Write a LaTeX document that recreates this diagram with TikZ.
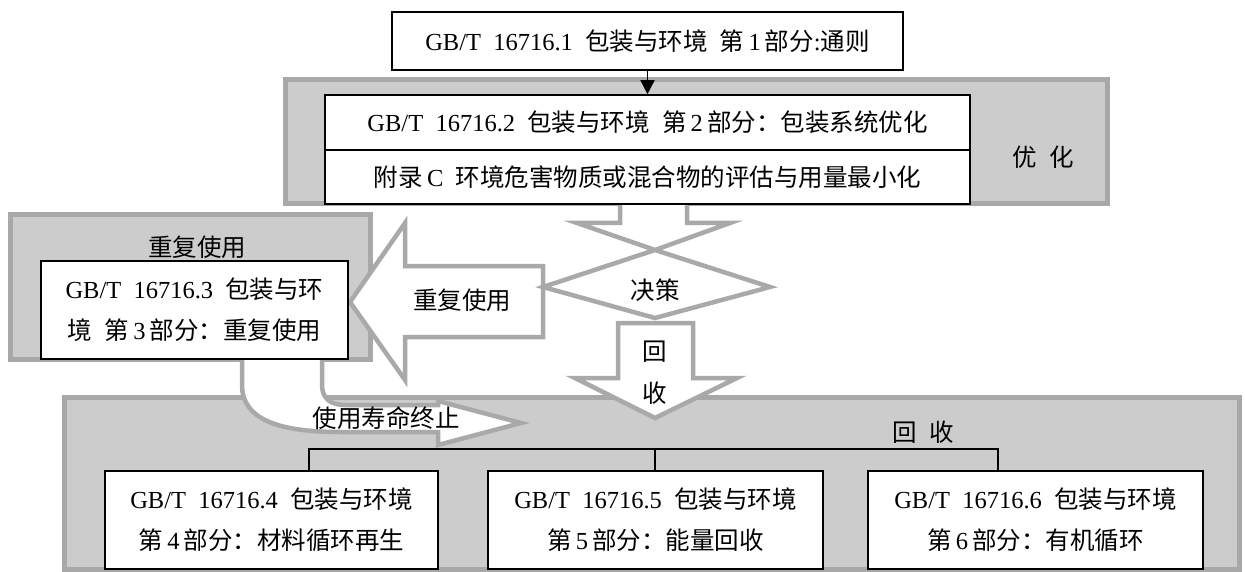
\documentclass[tikz,border=0pt]{standalone}
\usepackage{fontspec}
\setmainfont[WordSpace=2]{Liberation Serif}
\newfontfamily\zhfont{Noto Sans CJK SC}
\newcommand\zh[1]{{\zhfont #1}}
\newcommand\fs{\fontsize{24.5}{41}\selectfont}
\usetikzlibrary{arrows.meta}
\definecolor{pfill}{HTML}{CDCCCD}
\definecolor{pgray}{HTML}{A8A8A8}
\definecolor{agray}{HTML}{A9A9A9}
\tikzset{
  panel/.style={draw=pgray, fill=pfill, line width=5pt},
  stdbox/.style={draw=black, fill=white, line width=1.6pt, inner sep=0pt, align=center, font=\fs},
  blockarrow/.style={draw=agray, fill=white, line width=4.5pt, line join=miter},
  lbl/.style={font=\fs, inner sep=0pt},
  tree/.style={draw=black, line width=1.6pt},
}
\begin{document}
\begin{tikzpicture}[x=1pt,y=-1pt]
\useasboundingbox (0,0) rectangle (1245,572);
% panels
\draw[panel] (285.5,79.5) rectangle (1107.5,203.5);
\draw[panel] (10.5,214.5) rectangle (370.5,359.5);
\draw[panel] (64.5,397.5) rectangle (1239.5,569.5);
\node[lbl] (optl) at (1043,157) {\zh{优\hspace{0.5em}化}};
\node[lbl] (reusel) at (197,247) {\zh{重复使用}};
\node[lbl] (recl) at (923,432) {\zh{回\hspace{0.5em}收}};
% block arrows
\path[blockarrow] (620,200) -- (620,223) -- (577,223) -- (655,250) -- (730,223) -- (687,223) -- (687,200);
\path[blockarrow] (618,323) -- (618,378) -- (575,378) -- (655,418) -- (737,378) -- (693,378) -- (693,323) -- cycle;
\path[blockarrow] (350,302) -- (405,223) -- (405,266) -- (543,266) -- (543,337) -- (405,337) -- (405,380) -- cycle;
\path[blockarrow] (242,356) -- (242,385) .. controls (242,420) and (280,432) .. (340,432) -- (438,432) -- (438,445) -- (521,423) -- (438,401) -- (438,405) -- (345,405) .. controls (330,405) and (322,398) .. (322,385) -- (322,356);
\path[blockarrow] (543,287) -- (655,250) -- (770,287) -- (655,318) -- cycle;
\node[lbl] (dec) at (655,290) {\zh{决策}};
\node[lbl] (reusea) at (462,300) {\zh{重复使用}};
\node[lbl] (reca) at (655,352) {\zh{回}};
\node[lbl] (recb) at (655,393) {\zh{收}};
\node[lbl] (eol) at (386,418) {\zh{使用寿命终止}};
% boxes
\node[stdbox, minimum width=511pt, minimum height=58pt] (b1) at (647.5,41)
  {GB/T 16716.1 \zh{包装与环境\hspace{0.5em}第}\,1\,\zh{部分}:\zh{通则}};
\node[stdbox, minimum width=645pt, minimum height=55pt] (b2) at (647.5,122.5)
  {GB/T 16716.2 \zh{包装与环境\hspace{0.5em}第}\,2\,\zh{部分：包装系统优化}};
\node[stdbox, minimum width=645pt, minimum height=54pt] (b3) at (647.5,177)
  {\zh{附录}\,C \zh{环境危害物质或混合物的评估与用量最小化}};
\node[stdbox, minimum width=307pt, minimum height=98pt] (b4) at (194.5,310)
  {GB/T 16716.3 \zh{包装与环}\\\zh{境\hspace{0.5em}第}\,3\,\zh{部分：重复使用}};
\node[stdbox, minimum width=333pt, minimum height=98pt] (b5) at (271.5,520)
  {GB/T 16716.4 \zh{包装与环境}\\\zh{第}\,4\,\zh{部分：材料循环再生}};
\node[stdbox, minimum width=335pt, minimum height=98pt] (b6) at (655.5,520)
  {GB/T 16716.5 \zh{包装与环境}\\\zh{第}\,5\,\zh{部分：能量回收}};
\node[stdbox, minimum width=335pt, minimum height=98pt] (b7) at (1035.5,520)
  {GB/T 16716.6 \zh{包装与环境}\\\zh{第}\,6\,\zh{部分：有机循环}};
% connectors
\draw[line width=1.6pt, -{Triangle[length=14pt,width=14pt]}] (b1.south) -- (b2.north);
\coordinate (t5) at (309,449);
\coordinate (t6) at (655,449);
\coordinate (t7) at (998,449);
\draw[tree] (t5 |- b5.north) -- (t5) -- (t7) -- (t7 |- b7.north);
\draw[tree] (t6) -- (t6 |- b6.north);
\end{tikzpicture}
\end{document}
